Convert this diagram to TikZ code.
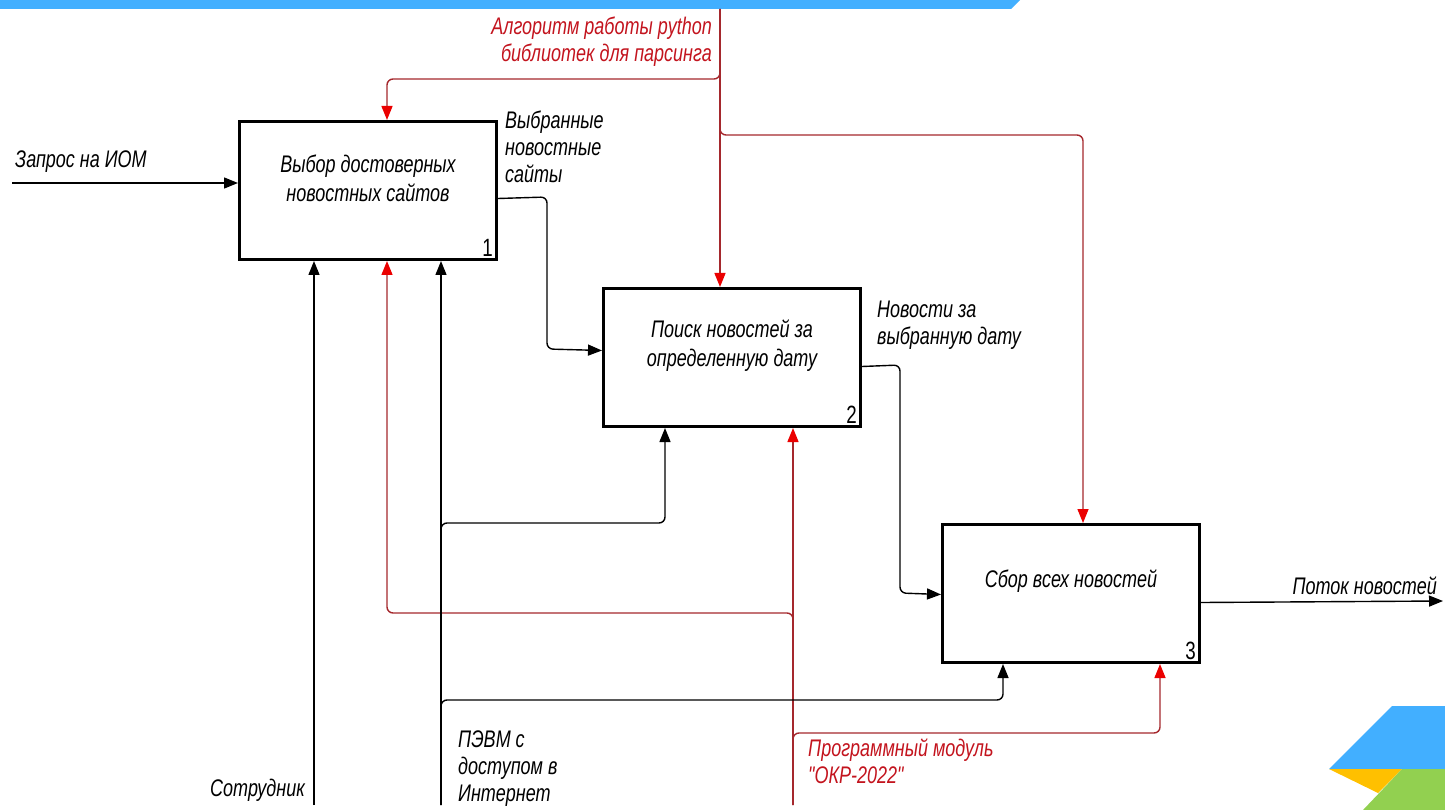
\documentclass[tikz,border=0pt]{standalone}
\usepackage{fontspec}
\setmainfont{Liberation Sans}
\newfontfamily\lbl{Liberation Sans}[FakeStretch=0.75]
\usetikzlibrary{arrows.meta}
\definecolor{barblue}{RGB}{66,175,255}
\definecolor{decgreen}{RGB}{146,208,80}
\definecolor{decyellow}{RGB}{255,192,0}
\definecolor{linered}{RGB}{165,40,45}
\definecolor{arrowred}{RGB}{235,0,0}
\definecolor{textred}{RGB}{195,20,30}
\begin{document}
\begin{tikzpicture}[x=1pt,y=-1pt,
  box/.style={draw, line width=3pt, anchor=north west, inner sep=0pt},
  boxtext/.style={font=\lbl\itshape\fontsize{24}{29}\selectfont, align=center, inner sep=0pt},
  lab/.style={font=\lbl\itshape\fontsize{24}{27}\selectfont, align=left, inner sep=0pt},
  redlab/.style={lab, text=textred},
  num/.style={font=\lbl\fontsize{25}{26}\selectfont, inner sep=0pt, anchor=south east},
  flow/.style={line width=1.4pt, rounded corners=6pt, -{Triangle[length=14pt,width=11pt]}},
  ctrl/.style={draw=linered, line width=1.4pt, rounded corners=6pt, -{Triangle[length=14pt,width=11pt,color=arrowred]}}
]
\useasboundingbox (0,0) rectangle (1445,810);
% decorations
\fill[barblue] (0,0) -- (1020,0) -- (1011,9) -- (0,9) -- cycle;
\fill[barblue] (1392,706) -- (1445,706) -- (1445,769) -- (1329,769) -- cycle;
\fill[decyellow] (1329,769) -- (1402,769) -- (1378,793) -- cycle;
\fill[decgreen] (1402,769) -- (1445,769) -- (1445,810) -- (1363,810) -- cycle;

% boxes
\node[box, minimum width=257pt, minimum height=138pt] (b1) at (238,120) {};
\node[box, minimum width=257pt, minimum height=138pt] (b2) at (602,287) {};
\node[box, minimum width=257pt, minimum height=138pt] (b3) at (941,523) {};
\node[boxtext] (t1) at ([yshift=12pt]b1.center) {Выбор достоверных\\новостных сайтов};
\node[boxtext] (t2) at ([yshift=12pt]b2.center) {Поиск новостей за\\определенную дату};
\node[boxtext] (t3) at ([yshift=12pt]b3.center) {Сбор всех новостей};
\node[num] (n1) at ([xshift=-5pt,yshift=4pt]b1.south east) {1};
\node[num] (n2) at ([xshift=-5pt,yshift=4pt]b2.south east) {2};
\node[num] (n3) at ([xshift=-5pt,yshift=4pt]b3.south east) {3};

% named free ends and x positions
\coordinate (in1) at (12,183);
\coordinate (out3) at (1443,601);
\coordinate (ctop) at (720,9);
\coordinate (cbot) at (793,805);
\coordinate (m1) at (314,805);
\coordinate (m2) at (441,805);
\coordinate (xr1) at (387,0);
\coordinate (xr3) at (1083,0);
\coordinate (xb2) at (665,0);
\coordinate (xb3) at (1003,0);
\coordinate (xrb3) at (1160,0);

% inputs / outputs
\draw[flow] (in1) -- (in1 -| b1.west);
\draw[flow] ([yshift=-8pt]b1.east) -- (547,197) -- (547,349) -- ([yshift=7pt]b2.west);
\draw[flow] ([yshift=-9pt]b2.east) -- (900,365) -- (900,593) -- ([yshift=-1pt]b3.west);
\draw[flow] ([yshift=-9pt]b3.east) -- (out3);

% controls (red, from top)
\draw[ctrl] (ctop) -- (ctop |- b2.north);
\draw[ctrl] (ctop) -- (720,79) -- (387,79) -- (xr1 |- b1.north);
\draw[ctrl] (ctop) -- (720,135) -- (1083,135) -- (xr3 |- b3.north);

% mechanisms (red, from bottom)
\draw[ctrl] (cbot) -- (cbot |- b2.south);
\draw[ctrl] (cbot) -- (793,613) -- (387,613) -- (xr1 |- b1.south);
\draw[ctrl] (cbot) -- (793,733) -- (1160,733) -- (xrb3 |- b3.south);

% mechanisms (black)
\draw[flow] (m1) -- (m1 |- b1.south);
\draw[flow] (m2) -- (m2 |- b1.south);
\draw[flow] (m2) -- (441,523) -- (665,523) -- (xb2 |- b2.south);
\draw[flow] (m2) -- (441,700) -- (1003,700) -- (xb3 |- b3.south);

% labels
\node[lab, anchor=north west] (l_in) at (15,151) {Запрос на ИОМ};
\node[lab, anchor=north west] (l_o1) at (505,111) {Выбранные\\новостные\\сайты};
\node[lab, anchor=north west] (l_o2) at (877,301) {Новости за\\выбранную дату};
\node[lab, anchor=north east] (l_o3) at (1437,577) {Поток новостей};
\node[redlab, anchor=north east, align=right] (l_c) at (712,17) {Алгоритм работы python\\библиотек для парсинга};
\node[lab, anchor=north east] (l_m1) at (305,779) {Сотрудник};
\node[lab, anchor=north west] (l_m2) at (458,731) {ПЭВМ с\\доступом в\\Интернет};
\node[redlab, anchor=north west] (l_m3) at (808,739) {Программный модуль\\"ОКР-2022"};
\end{tikzpicture}
\end{document}
